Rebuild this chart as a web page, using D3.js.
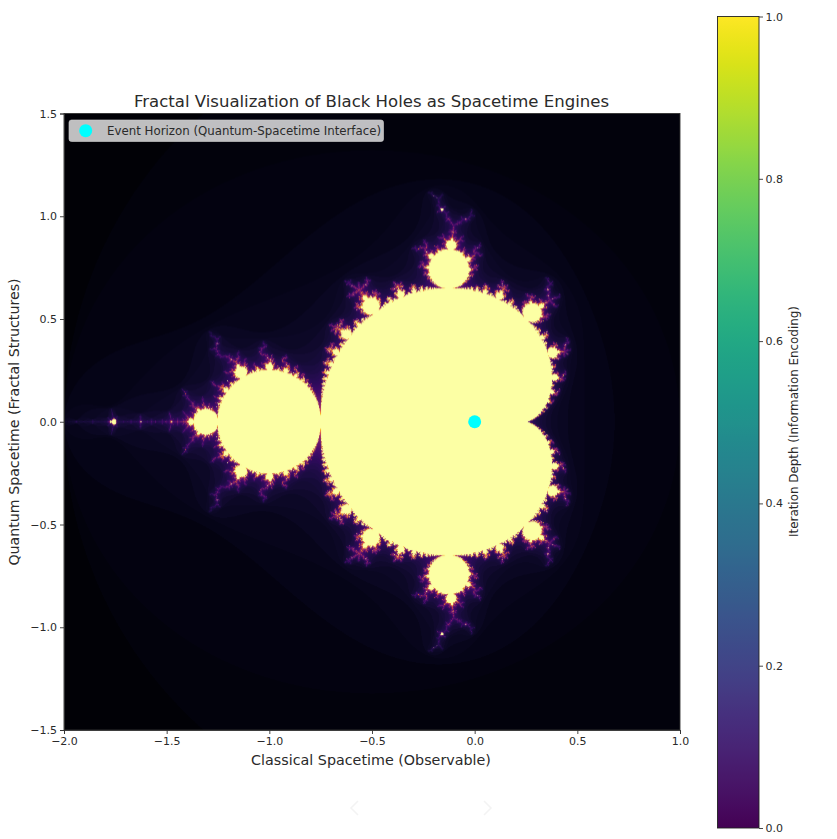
<!DOCTYPE html>
<html><head><meta charset="utf-8">
<script src="https://cdn.jsdelivr.net/npm/d3@7"></script>
<style>html,body{margin:0;padding:0;background:#fff}svg{display:block}text{font-family:"DejaVu Sans",sans-serif;fill:#2a2a2a}</style>
</head><body><svg id="c" width="837" height="839"></svg>
<script>
const titleText = "Fractal Visualization of Black Holes as Spacetime Engines";
const xLabelText = "Classical Spacetime (Observable)";
const yLabelText = "Quantum Spacetime (Fractal Structures)";
const colorbarLabelText = "Iteration Depth (Information Encoding)";
const legendText = "Event Horizon (Quantum-Spacetime Interface)";
const xDomain = [-2, 1];
const yDomain = [-1.5, 1.5];
const xTicks = [-2, -1.5, -1, -0.5, 0, 0.5, 1];
const yTicks = [-1.5, -1, -0.5, 0, 0.5, 1, 1.5];
const colorbarTicks = [0, 0.2, 0.4, 0.6, 0.8, 1];
const horizonX = [0];
const horizonY = [0];
// The heat-map field is the Mandelbrot set itself, so each cell is its escape count.
const gridSize = [1000, 1000];
const maxIterations = [100];

const plot = {l: 64, r: 680, t: 113.5, b: 730};
const bar = {l: 717.5, r: 759, t: 16.5, b: 828};
const svg = d3.select("#c");
const x = d3.scaleLinear().domain(xDomain).range([plot.l, plot.r]);
const y = d3.scaleLinear().domain(yDomain).range([plot.b, plot.t]);
const cb = d3.scaleLinear().domain([0, 1]).range([bar.b, bar.t]);
const fmt = d3.format(".1f");
const minus = d => fmt(d).replace("-", "\u2212");

// field
const [nx, ny] = gridSize, maxIter = maxIterations[0];
const gx = d3.scaleLinear().domain([0, nx - 1]).range(xDomain);
const gy = d3.scaleLinear().domain([0, ny - 1]).range([yDomain[1], yDomain[0]]);
const color = d3.scaleSequential(d3.interpolateInferno).domain([0, 1]);
const cv = document.createElement("canvas"); cv.width = nx; cv.height = ny;
const ctx = cv.getContext("2d");
const img = ctx.createImageData(nx, ny);
const lut = d3.range(maxIter + 1).map(i => d3.rgb(color(i / maxIter)));
for (let j = 0; j < ny; j++) {
  const ci = gy(j);
  for (let i = 0; i < nx; i++) {
    const cr = gx(i);
    let a = 0, b = 0, n = 0;
    while (n < maxIter && a * a + b * b <= 4) { const t = a * a - b * b + cr; b = 2 * a * b + ci; a = t; n++; }
    const c = lut[n], p = 4 * (j * nx + i);
    img.data[p] = c.r; img.data[p + 1] = c.g; img.data[p + 2] = c.b; img.data[p + 3] = 255;
  }
}
ctx.putImageData(img, 0, 0);
// Resample to the plot size with a soft blur, matching the reference's softness.
const pw = Math.round(plot.r - plot.l), ph = Math.round(plot.b - plot.t);
const out = document.createElement("canvas"); out.width = pw; out.height = ph;
const octx = out.getContext("2d");
octx.fillStyle = "#000004"; octx.fillRect(0, 0, pw, ph);
octx.imageSmoothingEnabled = true; octx.imageSmoothingQuality = "high";
octx.filter = "blur(0.55px)";
octx.drawImage(cv, 0, 0, pw, ph);
svg.append("image").attr("x", plot.l).attr("y", plot.t)
  .attr("width", plot.r - plot.l).attr("height", plot.b - plot.t)
  .attr("preserveAspectRatio", "none").attr("href", out.toDataURL("image/png"));

// axes
const styleAxis = (g, size) => {
  g.select(".domain").attr("stroke", "#333").attr("stroke-width", 0.9);
  g.selectAll(".tick line").attr("stroke", "#333").attr("stroke-width", 0.9);
  g.selectAll("text").attr("font-size", size).attr("font-family", '"DejaVu Sans",sans-serif').attr("fill", "#2a2a2a");
};
svg.append("g").attr("transform", `translate(0,${plot.b})`)
  .call(d3.axisBottom(x).tickValues(xTicks).tickFormat(minus).tickSize(4).tickPadding(3))
  .call(styleAxis, 11);
svg.append("g").attr("transform", `translate(${plot.l},0)`)
  .call(d3.axisLeft(y).tickValues(yTicks).tickFormat(minus).tickSize(4).tickPadding(3))
  .call(styleAxis, 11);
svg.append("rect").attr("x", plot.l).attr("y", plot.t).attr("width", plot.r - plot.l).attr("height", plot.b - plot.t)
  .attr("fill", "none").attr("stroke", "#333").attr("stroke-width", 0.9);

svg.append("text").attr("x", 371.5).attr("y", 106.5).attr("text-anchor", "middle").attr("font-size", 16.55).text(titleText);
svg.append("text").attr("x", 371).attr("y", 765).attr("text-anchor", "middle").attr("font-size", 14.3).text(xLabelText);
svg.append("text").attr("transform", "translate(19,422) rotate(-90)").attr("text-anchor", "middle").attr("font-size", 14.2).text(yLabelText);

// horizon marker
svg.append("g").selectAll("circle").data(horizonX).join("circle")
  .attr("cx", d => x(d)).attr("cy", (d, i) => y(horizonY[i])).attr("r", 6.5).attr("fill", "#00ffff");

// legend
const lg = svg.append("g");
lg.append("rect").attr("x", 69).attr("y", 120).attr("width", 314.5).attr("height", 21.5).attr("rx", 2.5)
  .attr("fill", "#fff").attr("fill-opacity", 0.75).attr("stroke", "#ccc").attr("stroke-opacity", 0.8).attr("stroke-width", 0.8);
lg.append("circle").attr("cx", 85.7).attr("cy", 130.7).attr("r", 6.5).attr("fill", "#00ffff");
lg.append("text").attr("x", 107).attr("y", 134.7).attr("font-size", 11.8).text(legendText);

// colorbar
const defs = svg.append("defs");
const grad = defs.append("linearGradient").attr("id", "vir").attr("x1", 0).attr("x2", 0).attr("y1", 1).attr("y2", 0);
d3.range(0, 1.0001, 0.02).forEach(t => grad.append("stop").attr("offset", t).attr("stop-color", d3.interpolateViridis(t)));
svg.append("rect").attr("x", bar.l).attr("y", bar.t).attr("width", bar.r - bar.l).attr("height", bar.b - bar.t)
  .attr("fill", "url(#vir)").attr("stroke", "#222").attr("stroke-width", 0.9);
svg.append("g").attr("transform", `translate(${bar.r},0)`)
  .call(d3.axisRight(cb).tickValues(colorbarTicks).tickFormat(fmt).tickSize(4).tickPadding(2.5))
  .call(styleAxis, 11)
  .call(g => g.select(".domain").remove());
svg.append("text").attr("transform", "translate(798,421.5) rotate(-90)").attr("text-anchor", "middle").attr("font-size", 11.9).text(colorbarLabelText);

// faint page arrows visible below the chart in the reference
svg.append("g").attr("fill", "none").attr("stroke", "#f3f3f3").attr("stroke-width", 1.5)
  .selectAll("path").data(["M358,801L351,808L358,815", "M484,801L491,808L484,815"]).join("path").attr("d", d => d);
</script></body></html>
